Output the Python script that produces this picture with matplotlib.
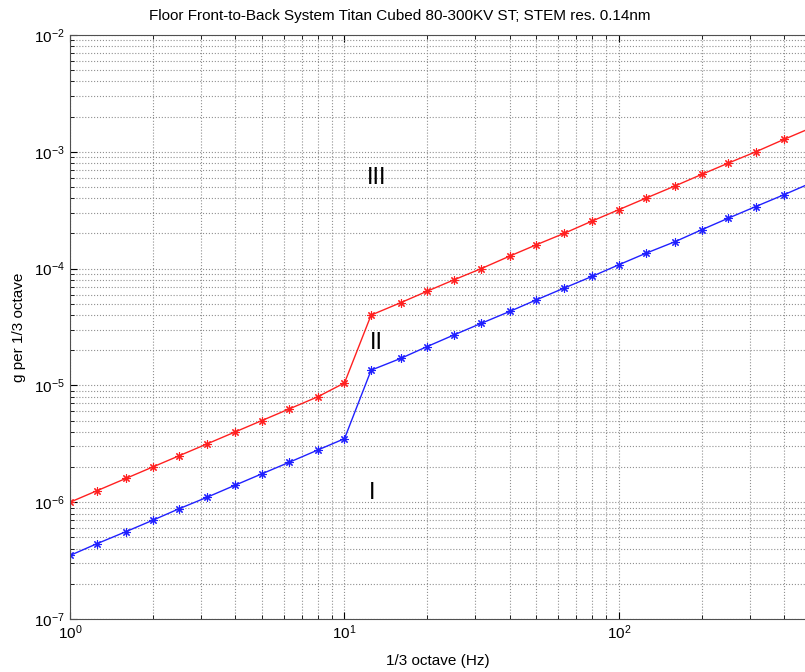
import matplotlib
matplotlib.use('Agg')
import matplotlib.pyplot as plt
import numpy as np

# 1/3 octave centre frequencies (Hz)
freq = [1, 1.25, 1.6, 2, 2.5, 3.15, 4, 5, 6.3, 8, 10, 12.5, 16, 20, 25, 31.5,
        40, 50, 63, 80, 100, 125, 160, 200, 250, 315, 400, 500]

# limit curves, g per 1/3 octave
upper = [1.0e-6, 1.25e-6, 1.6e-6, 2.0e-6, 2.5e-6, 3.15e-6, 4.0e-6, 5.0e-6, 6.3e-6, 8.0e-6,
         1.05e-5, 4.0e-5, 5.1e-5, 6.4e-5, 8.0e-5, 1.0e-4, 1.28e-4, 1.6e-4, 2.0e-4, 2.56e-4,
         3.2e-4, 4.0e-4, 5.1e-4, 6.4e-4, 8.0e-4, 1.0e-3, 1.28e-3, 1.6e-3]
lower = [3.5e-7, 4.4e-7, 5.6e-7, 7.0e-7, 8.8e-7, 1.1e-6, 1.4e-6, 1.75e-6, 2.2e-6, 2.8e-6,
         3.5e-6, 1.35e-5, 1.7e-5, 2.15e-5, 2.7e-5, 3.4e-5, 4.3e-5, 5.4e-5, 6.8e-5, 8.6e-5,
         1.08e-4, 1.35e-4, 1.7e-4, 2.15e-4, 2.7e-4, 3.4e-4, 4.3e-4, 5.4e-4]

zones = ['III', 'II', 'I']
zone_x = [13.1, 13.1, 12.6]
zone_y = [6.0e-4, 2.3e-5, 1.2e-6]

plt.rcParams['font.family'] = ['Liberation Sans', 'DejaVu Sans']

fig = plt.figure(figsize=(8.05, 6.72), dpi=100)
# the original figure is cropped on the right, so the axes run to the edge
ax = fig.add_axes([70/805., 53/672., 735/805., 584/672.])

ax.plot(freq, upper, '-', color='#ff2020', lw=1.0, marker=(8, 2, 0), ms=6, mew=0.8)
ax.plot(freq, lower, '-', color='#2020ff', lw=1.0, marker=(8, 2, 0), ms=6, mew=0.8)

ax.set_xscale('log')
ax.set_yscale('log')
ax.set_xlim(1, 476)
ax.set_ylim(1e-7, 1e-2)

ax.grid(True, which='both', linestyle=':', color='#909090', linewidth=0.8)
ax.tick_params(which='both', direction='in', top=True, right=False, labelsize=11)
ax.tick_params(which='major', length=5)
ax.tick_params(which='minor', length=3)
for s in ax.spines.values():
    s.set_color('#505050')
ax.spines['right'].set_visible(False)

for z, zx, zy in zip(zones, zone_x, zone_y):
    ax.text(zx, zy, z, fontsize=17, ha='center', va='center')

ax.set_xlabel('1/3 octave (Hz)', fontsize=11, labelpad=8)
ax.set_ylabel('g per 1/3 octave', fontsize=11, labelpad=6)
fig.text(400/805., 1 - 16/672., 'Floor Front-to-Back System Titan Cubed 80-300KV ST; STEM res. 0.14nm',
         ha='center', va='center', fontsize=11)

plt.savefig('out.png', dpi=100)
